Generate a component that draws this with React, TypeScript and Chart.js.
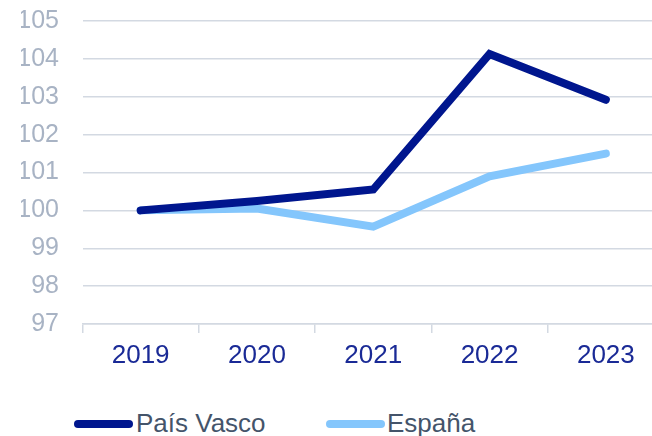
import React, { useEffect, useRef } from "react";
import { Chart, registerables } from "chart.js";

Chart.register(...registerables);

const categories = ["2019", "2020", "2021", "2022", "2023"];
const paisVasco = [100, 100.25, 100.55, 104.13, 102.92];
const espana = [100, 100.05, 99.57, 100.9, 101.5];
const seriesNames = ["País Vasco", "España"];
const seriesColors = ["#00168E", "#84C6FC"];
const yMin = 97;
const yMax = 105;

const FONT = "'Liberation Sans', Arial, sans-serif";

export default function App() {
  const ref = useRef<HTMLCanvasElement | null>(null);
  useEffect(() => {
    if (!ref.current) return;
    const chart = new Chart(ref.current, {
      type: "line",
      data: {
        labels: categories,
        datasets: [paisVasco, espana].map((d, i) => ({
          label: seriesNames[i],
          data: d,
          borderColor: seriesColors[i],
          backgroundColor: seriesColors[i],
          borderWidth: 8,
          borderCapStyle: "round" as const,
          borderJoinStyle: "miter" as const,
          pointRadius: 0,
          tension: 0,
        })),
      },
      options: {
        animation: false,
        responsive: false,
        devicePixelRatio: 1,
        layout: { padding: { left: 21, top: 21, right: 10, bottom: 0 } },
        plugins: {
          tooltip: { enabled: false },
          legend: { display: false },
        },
        scales: {
          x: {
            type: "category",
            offset: true,
            afterFit: (s: any) => {
              s.height = 50;
            },
            grid: {
              offset: true,
              drawOnChartArea: false,
              drawTicks: true,
              tickLength: 9,
              color: "#D3D9E2",
              lineWidth: 1.5,
            },
            border: { display: true, color: "#D3D9E2", width: 1.5 },
            ticks: {
              color: "#1A2A96",
              padding: 7,
              font: { family: FONT, size: 26 },
              maxRotation: 0,
            },
          },
          y: {
            min: yMin,
            max: yMax,
            afterFit: (s: any) => {
              s.width = 61.5;
              s.paddingTop = 0;
              s.paddingBottom = 0;
            },
            grid: {
              drawTicks: false,
              color: "#D3D9E2",
              lineWidth: 1.5,
            },
            border: { display: false },
            ticks: {
              stepSize: 1,
              padding: 23.5,
              color: "#A8B3C4",
              font: { family: FONT, size: 25 },
            },
          },
        },
      },
    });
    return () => chart.destroy();
  }, []);

  const legendItems = [
    { lineLeft: 74, textLeft: 136 },
    { lineLeft: 326, textLeft: 387 },
  ];

  return (
    <div
      style={{
        position: "absolute",
        left: 0,
        top: 0,
        width: 652,
        height: 436,
        overflow: "hidden",
        background: "#fff",
      }}
    >
      <canvas ref={ref} width={674} height={374} style={{ display: "block" }} />
      {seriesNames.map((name, i) => (
        <React.Fragment key={name}>
          <div
            style={{
              position: "absolute",
              left: legendItems[i].lineLeft,
              top: 420,
              width: 59,
              height: 8,
              borderRadius: 4,
              background: seriesColors[i],
            }}
          />
          <div
            style={{
              position: "absolute",
              left: legendItems[i].textLeft,
              top: 410,
              fontFamily: FONT,
              fontSize: 26,
              lineHeight: "26px",
              color: "#44546A",
              whiteSpace: "nowrap",
            }}
          >
            {name}
          </div>
        </React.Fragment>
      ))}
    </div>
  );
}
